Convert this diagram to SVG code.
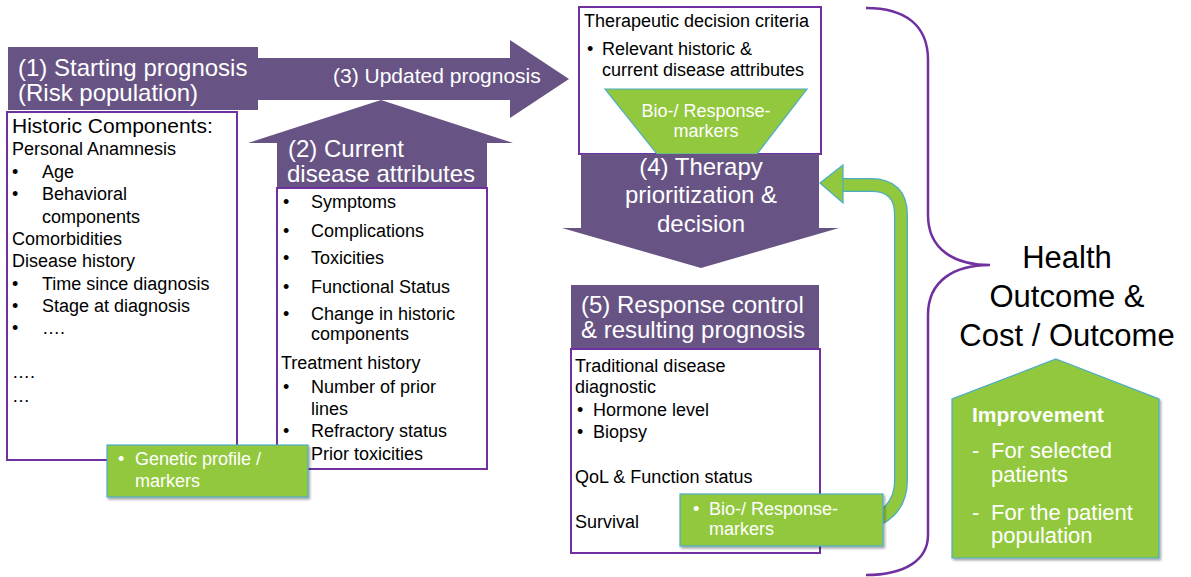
<svg xmlns="http://www.w3.org/2000/svg" width="1191" height="577" viewBox="0 0 1191 577">
<defs>
<style>
text{font-family:"Liberation Sans",Arial,sans-serif;}
.hd{fill:#ffffff;font-size:24px;}
.b{fill:#000000;font-size:18px;}
.w{fill:#ffffff;font-size:18px;}
.arrow{fill:#685484;}
.box{fill:#ffffff;stroke:#7030A0;stroke-width:2;}
.green{fill:#92C83E;stroke:#4BACC6;stroke-width:1.2;}
.brace{fill:none;stroke:#7030A0;stroke-width:2.5;}
</style>
<filter id="sh" x="-10%" y="-10%" width="130%" height="140%">
<feDropShadow dx="1.5" dy="2" stdDeviation="1.2" flood-color="#000" flood-opacity="0.35"/>
</filter>
</defs>
<rect width="1191" height="577" fill="#ffffff"/>

<g id="connectors">
<path d="M880,518 Q901,506 901,480 L901,215 Q901,185 871,185 L843,185" fill="none" stroke="#4BACC6" stroke-width="14"/>
<path d="M880,518 Q901,506 901,480 L901,215 Q901,185 871,185 L841,185" fill="none" stroke="#92C83E" stroke-width="11.5"/>
<polygon points="820,183 843,165 843,203" fill="#92C83E" stroke="#4BACC6" stroke-width="1.2"/>
<path class="brace" d="M866,8 C905,8 928,25 928,60 L928,215 C928,250 955,265 990,265 C955,265 928,280 928,315 L928,535 C928,560 905,575 866,575"/>
</g>

<g id="node-updated-prognosis">
<polygon class="arrow" points="8,47 258,47 258,58 510,58 510,40 569,79 510,118 510,100 258,100 258,110 8,110"/>
<text class="hd" x="18" y="76">(1) Starting prognosis</text>
<text class="hd" x="18" y="101">(Risk population)</text>
<text class="hd" x="333" y="83" style="font-size:21px">(3) Updated prognosis</text>
</g>

<g id="node-historic">
<rect class="box" x="7" y="112" width="230" height="348"/>
<text class="b" x="12" y="133" style="font-size:21px">Historic Components:</text>
<text class="b" x="12" y="155">Personal Anamnesis</text>
<text class="b" x="12" y="178">•</text><text class="b" x="42" y="178">Age</text>
<text class="b" x="12" y="200">•</text><text class="b" x="42" y="200">Behavioral</text>
<text class="b" x="42" y="223">components</text>
<text class="b" x="12" y="245">Comorbidities</text>
<text class="b" x="12" y="267">Disease history</text>
<text class="b" x="12" y="290">•</text><text class="b" x="42" y="290">Time since diagnosis</text>
<text class="b" x="12" y="312">•</text><text class="b" x="42" y="312">Stage at diagnosis</text>
<text class="b" x="12" y="334">•</text><text class="b" x="42" y="334">….</text>
<text class="b" x="12" y="378">….</text>
<text class="b" x="12" y="402">…</text>
</g>

<g id="node-current-attributes">
<polygon class="arrow" points="277,190 277,143 248,143 381,100 513,143 487,143 487,190"/>
<text class="hd" x="288" y="157">(2) Current</text>
<text class="hd" x="287" y="182">disease attributes</text>
<rect class="box" x="277" y="188" width="210" height="281"/>
<text class="b" x="283" y="208">•</text><text class="b" x="311" y="208">Symptoms</text>
<text class="b" x="283" y="237">•</text><text class="b" x="311" y="237">Complications</text>
<text class="b" x="283" y="264">•</text><text class="b" x="311" y="264">Toxicities</text>
<text class="b" x="283" y="293">•</text><text class="b" x="311" y="293">Functional Status</text>
<text class="b" x="283" y="320">•</text><text class="b" x="311" y="320">Change in historic</text>
<text class="b" x="311" y="340">components</text>
<text class="b" x="281" y="369">Treatment history</text>
<text class="b" x="283" y="393">•</text><text class="b" x="311" y="393">Number of prior</text>
<text class="b" x="311" y="415">lines</text>
<text class="b" x="283" y="437">•</text><text class="b" x="311" y="437">Refractory status</text>
<text class="b" x="283" y="460">•</text><text class="b" x="311" y="460">Prior toxicities</text>
</g>

<g id="node-genetic">
<rect class="green" x="107" y="445" width="201" height="52" filter="url(#sh)"/>
<text class="w" x="118" y="465">•</text><text class="w" x="135" y="465">Genetic profile /</text>
<text class="w" x="135" y="487">markers</text>
</g>

<g id="node-decision-criteria">
<rect class="box" x="579" y="7" width="242" height="147"/>
<text class="b" x="584" y="27">Therapeutic decision criteria</text>
<text class="b" x="587" y="55">•</text><text class="b" x="602" y="55">Relevant historic &amp;</text>
<text class="b" x="602" y="76">current disease attributes</text>
<polygon class="green" points="605,89 807,89 757,154 657,154"/>
<text class="w" x="706" y="117" text-anchor="middle">Bio-/ Response-</text>
<text class="w" x="706" y="137" text-anchor="middle">markers</text>
</g>

<g id="node-therapy">
<polygon class="arrow" points="581,154 819,154 819,228 839,228 701,268 562,228 581,228"/>
<text class="hd" x="701" y="175" text-anchor="middle">(4) Therapy</text>
<text class="hd" x="701" y="203" text-anchor="middle">prioritization &amp;</text>
<text class="hd" x="701" y="232" text-anchor="middle">decision</text>
</g>

<g id="node-response">
<rect class="arrow" x="571" y="285" width="248" height="64"/>
<text class="hd" x="581" y="313">(5) Response control</text>
<text class="hd" x="581" y="338">&amp; resulting prognosis</text>
<rect class="box" x="571" y="349" width="249" height="204"/>
<text class="b" x="575" y="372">Traditional disease</text>
<text class="b" x="575" y="393">diagnostic</text>
<text class="b" x="577" y="416">•</text><text class="b" x="593" y="416">Hormone level</text>
<text class="b" x="577" y="438">•</text><text class="b" x="593" y="438">Biopsy</text>
<text class="b" x="575" y="483">QoL &amp; Function status</text>
<text class="b" x="575" y="528">Survival</text>
</g>

<g id="node-response-markers">
<rect class="green" x="680" y="494" width="203" height="52" filter="url(#sh)"/>
<text class="w" x="693" y="515">•</text><text class="w" x="709" y="515">Bio-/ Response-</text>
<text class="w" x="709" y="535">markers</text>
</g>

<g id="node-health-outcome">
<text x="1067" y="268" text-anchor="middle" style="font-size:31px" fill="#000">Health</text>
<text x="1067" y="307" text-anchor="middle" style="font-size:31px" fill="#000">Outcome &amp;</text>
<text x="1067" y="346" text-anchor="middle" style="font-size:31px" fill="#000">Cost / Outcome</text>
</g>

<g id="node-improvement">
<polygon class="green" points="1056,359 1159,399 1159,558 952,558 952,399" filter="url(#sh)"/>
<text x="972" y="422" fill="#ffffff" style="font-size:21px;font-weight:bold">Improvement</text>
<text x="972" y="458" fill="#ffffff" style="font-size:22px">-</text><text x="991" y="458" fill="#ffffff" style="font-size:22px">For selected</text>
<text x="991" y="482" fill="#ffffff" style="font-size:22px">patients</text>
<text x="972" y="520" fill="#ffffff" style="font-size:22px">-</text><text x="991" y="520" fill="#ffffff" style="font-size:22px">For the patient</text>
<text x="991" y="543" fill="#ffffff" style="font-size:22px">population</text>
</g>
</svg>
